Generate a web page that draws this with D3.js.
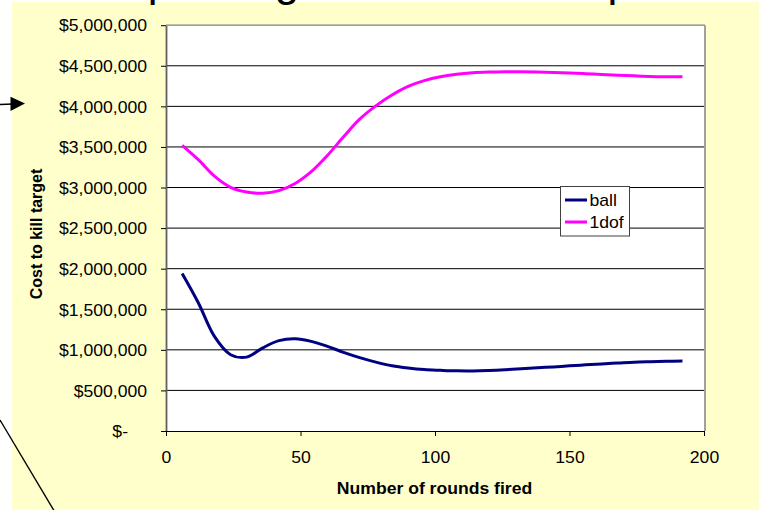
<!DOCTYPE html>
<html>
<head>
<meta charset="utf-8">
<script src="https://cdn.jsdelivr.net/npm/d3@7"></script>
<style>
  html, body { margin: 0; padding: 0; background: #fff; }
  svg { display: block; font-family: "Liberation Sans", Arial, sans-serif; }
</style>
</head>
<body>
<svg id="chart" width="759" height="510"></svg>
<script>
// Rounds fired (x) and cost to kill the target (y, dollars) for each round type
const rounds = [6, 12, 18, 24, 30, 36, 42, 48, 54, 60, 66, 72, 78, 84, 90, 96,
                102, 108, 114, 120, 126, 132, 138, 144, 150, 156, 162, 168, 174, 180, 186, 192];
const ball = [1940000, 1580000, 1165000, 940000, 910000, 1025000, 1113000, 1136000,
              1104000, 1043000, 969000, 904000, 849000, 804000, 776000, 757000,
              748000, 741000, 740000, 745000, 754000, 766000, 779000, 790000,
              803000, 815000, 827000, 837000, 847000, 853000, 858000, 862000];
const oneDof = [3520000, 3343000, 3140000, 3003000, 2945000, 2930000, 2962000, 3050000,
                3196000, 3395000, 3625000, 3842000, 4006000, 4139000, 4246000, 4317000,
                4365000, 4395000, 4413000, 4422000, 4426000, 4426000, 4423000, 4418000,
                4411000, 4403000, 4393000, 4384000, 4376000, 4369000, 4366000, 4365000];
const seriesNames = ["ball", "1dof"];
const seriesColors = ["#000080", "#FF00FF"];

const xTicks = [0, 50, 100, 150, 200];
const yTicks = [0, 500000, 1000000, 1500000, 2000000, 2500000, 3000000, 3500000, 4000000, 4500000, 5000000];
const yTickLabels = ["$-", "$500,000", "$1,000,000", "$1,500,000", "$2,000,000", "$2,500,000",
                     "$3,000,000", "$3,500,000", "$4,000,000", "$4,500,000", "$5,000,000"];

const titleText = "Cost per target: ball vs. 1dof precision";
const xTitle = "Number of rounds fired";
const yTitle = "Cost to kill target";

const svg = d3.select("#chart");
const W = 759, H = 510;
const plot = { left: 166, right: 704, top: 25.2, bottom: 431 };
const STRETCH = 1.1;   // horizontal text stretch of the scaled chart object
const FS = 16;

// slide background
svg.append("rect").attr("width", W).attr("height", H).attr("fill", "#fff");
svg.append("rect").attr("x", 12).attr("y", 2).attr("width", W - 12).attr("height", H - 2)
  .attr("fill", "#FFFFCC");

// slide title (mostly above the visible area)
svg.append("text").attr("x", 45).attr("y", -4)
  .attr("font-size", 44).attr("fill", "#000").text(titleText);

// decorative connector shapes on the slide
svg.append("line").attr("x1", 0).attr("y1", 104.5).attr("x2", 13).attr("y2", 104)
  .attr("stroke", "#000").attr("stroke-width", 1.5);
svg.append("path").attr("d", "M10.5,96.8 L25,103.6 L10.5,111 Z").attr("fill", "#000");
svg.append("line").attr("x1", 0).attr("y1", 420).attr("x2", 56).attr("y2", 514)
  .attr("stroke", "#000").attr("stroke-width", 1.4);

const x = d3.scaleLinear().domain([0, 200]).range([plot.left, plot.right]);
const y = d3.scaleLinear().domain([0, 5000000]).range([plot.bottom, plot.top]);

// plot area
svg.append("rect").attr("x", plot.left).attr("y", plot.top)
  .attr("width", plot.right - plot.left).attr("height", plot.bottom - plot.top)
  .attr("fill", "#fff");

// horizontal gridlines
svg.append("g").selectAll("line")
  .data(yTicks.filter(v => v > 0 && v < 5000000))
  .join("line")
  .attr("x1", plot.left).attr("x2", plot.right)
  .attr("y1", d => y(d)).attr("y2", d => y(d))
  .attr("stroke", "#000").attr("stroke-width", 1);

// plot border top and right
svg.append("line").attr("x1", plot.left).attr("x2", plot.right + 1)
  .attr("y1", plot.top).attr("y2", plot.top).attr("stroke", "#808080").attr("stroke-width", 1.2);
svg.append("line").attr("x1", plot.right + 1).attr("x2", plot.right + 1)
  .attr("y1", plot.top).attr("y2", plot.bottom).attr("stroke", "#A0A0A0").attr("stroke-width", 2);

// y axis
const yAxis = d3.axisLeft(y).tickValues(yTicks)
  .tickFormat((d, i) => yTickLabels[i]).tickSizeInner(5).tickSizeOuter(0).tickPadding(0);
const gy = svg.append("g").attr("transform", `translate(${plot.left},0)`).call(yAxis);
gy.select(".domain").attr("stroke", "#606060").attr("stroke-width", 1.8);
gy.selectAll(".tick line").attr("stroke", "#000");
gy.selectAll(".tick text")
  .attr("font-size", FS).attr("fill", "#000").attr("font-family", null)
  .attr("x", d => (d === 0 ? -38 : -19) / STRETCH)
  .attr("dy", "0.36em")
  .attr("transform", `scale(${STRETCH},1)`);

// x axis
const xAxis = d3.axisBottom(x).tickValues(xTicks).tickFormat(d3.format("d"))
  .tickSizeInner(5).tickSizeOuter(0).tickPadding(0);
const gx = svg.append("g").attr("transform", `translate(0,${plot.bottom})`).call(xAxis);
gx.select(".domain").attr("stroke", "#000").attr("stroke-width", 1.2);
gx.selectAll(".tick line").attr("stroke", "#000");
gx.selectAll(".tick text")
  .attr("font-size", FS).attr("fill", "#000").attr("font-family", null)
  .attr("y", 31.8).attr("dy", 0)
  .attr("transform", `scale(${STRETCH},1)`);

// axis titles
svg.append("text")
  .attr("transform", `translate(${(plot.left + plot.right) / 2 - 0.5},494) scale(${STRETCH},1)`)
  .attr("text-anchor", "middle").attr("font-size", FS).attr("font-weight", "bold")
  .text(xTitle);
svg.append("text")
  .attr("transform", `translate(42,234) rotate(-90)`)
  .attr("text-anchor", "middle").attr("font-size", FS).attr("font-weight", "bold")
  .text(yTitle);

// series lines
const series = [ball, oneDof];
const line = d3.line()
  .x((d, i) => x(rounds[i]))
  .y(d => y(d))
  .curve(d3.curveCatmullRom.alpha(0.5));
svg.append("g").selectAll("path")
  .data(series)
  .join("path")
  .attr("d", d => line(d))
  .attr("fill", "none")
  .attr("stroke", (d, i) => seriesColors[i])
  .attr("stroke-width", 3)
  .attr("stroke-linejoin", "round");

// legend
const lg = svg.append("g");
lg.append("rect").attr("x", 560.5).attr("y", 186.5).attr("width", 69).attr("height", 49.5)
  .attr("fill", "#fff").attr("stroke", "#404040").attr("stroke-width", 1);
const rows = lg.selectAll("g.row").data(seriesNames).join("g").attr("class", "row")
  .attr("transform", (d, i) => `translate(0,${200 + i * 22})`);
rows.append("line").attr("x1", 565).attr("x2", 587).attr("y1", 0).attr("y2", 0)
  .attr("stroke", (d, i) => seriesColors[i]).attr("stroke-width", 3);
rows.append("text")
  .attr("transform", `translate(589.5,5.6) scale(${STRETCH},1)`)
  .attr("font-size", FS).attr("fill", "#000")
  .text(d => d);
</script>
</body>
</html>
